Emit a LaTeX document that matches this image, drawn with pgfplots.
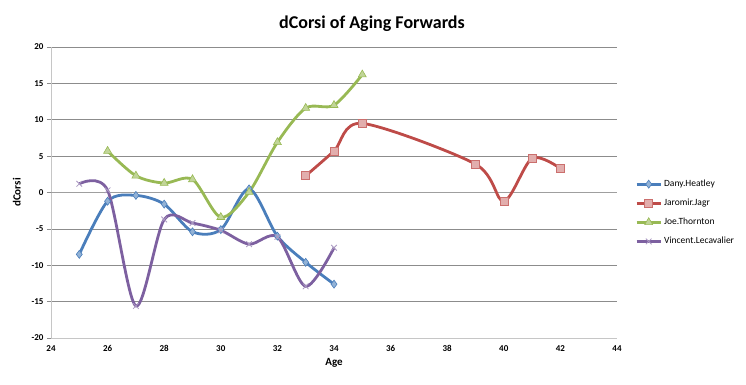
\documentclass[border=0pt]{standalone}
\usepackage{pgfplots}
\pgfplotsset{compat=1.18}
\usepackage{fontspec}
\setmainfont{Carlito}
\definecolor{cblue}{HTML}{4A7EBB}
\definecolor{cred}{HTML}{BE4B48}
\definecolor{cgreen}{HTML}{98B954}
\definecolor{cpurple}{HTML}{7D60A0}
\definecolor{gridc}{HTML}{8C8C8C}
\begin{document}
\begin{tikzpicture}[x=1pt,y=1pt]
\path (-51,-47) rectangle (695,338);
\begin{axis}[
  at={(0,0)}, anchor=south west,
  scale only axis, width=566pt, height=291pt,
  xmin=24, xmax=44, ymin=-20, ymax=20,
  xtick={24,26,...,44}, ytick={-20,-15,...,20},
  axis lines=left, axis line style={gray!45, line width=0.8pt, -},
  ymajorgrids, grid style={gridc, line width=0.6pt},
  ytick style={gridc, line width=0.6pt}, xtick style={draw=none},
  tick align=outside, major tick length=4pt,
  /pgf/number format/assume math mode=true,
  tick label style={font=\fontsize{9}{10}\selectfont\bfseries},
  xlabel={\textbf{Age}}, ylabel={\textbf{dCorsi}},
  label style={font=\fontsize{11}{12}\selectfont},
  title={\textbf{dCorsi of Aging Forwards}},
  title style={font=\fontsize{18}{20}\selectfont, yshift=6pt, xshift=38pt},
  extra y ticks={0}, extra y tick labels={},
  extra y tick style={grid style={gray!75, line width=1.8pt}, major tick length=0pt},
  legend cell align=left,
  legend style={at={(1.032,0.55)}, anchor=north west, draw=none, fill=none,
    font=\fontsize{9.5}{11}\selectfont, row sep=7pt, inner sep=0pt},
  legend image code/.code={\draw[#1, mark repeat=2, mark phase=2] plot coordinates {(0pt,0pt) (12pt,0pt) (24pt,0pt)};},
  every axis plot/.append style={line width=2.8pt, smooth, tension=0.5},
  clip=false,
]
\addplot[cblue, mark=diamond*, mark size=4pt, mark options={fill=cblue!60!white, draw=cblue, line width=0.6pt}] coordinates {
(25,-8.5) (26,-1.2) (27,-0.4) (28,-1.6) (29,-5.4) (30,-5.1) (31,0.5) (32,-6.0) (33,-9.6) (34,-12.6)};
\addlegendentry{Dany.Heatley}
\addplot[cred, mark=square*, mark size=4pt, mark options={fill=cred!45!white, draw=cred!80!white, line width=0.6pt}] coordinates {
(33,2.3) (34,5.7) (35,9.5) (39,3.9) (40,-1.2) (41,4.7) (42,3.3)};
\addlegendentry{Jaromir.Jagr}
\addplot[cgreen, mark=triangle*, mark size=4.6pt, mark options={fill=cgreen!60!white, draw=cgreen, line width=0.6pt}] coordinates {
(26,5.7) (27,2.3) (28,1.3) (29,1.8) (30,-3.4) (31,0.05) (32,6.9) (33,11.6) (34,12.0) (35,16.2)};
\addlegendentry{Joe.Thornton}
\addplot[cpurple, mark=x, mark size=4pt, mark options={draw=cpurple!65!white, line width=0.8pt}] coordinates {
(25,1.2) (26,0.3) (27,-15.6) (28,-3.7) (29,-4.2) (30,-5.2) (31,-7.1) (32,-6.1) (33,-12.9) (34,-7.6)};
\addlegendentry{Vincent.Lecavalier}
\end{axis}
\end{tikzpicture}
\end{document}
